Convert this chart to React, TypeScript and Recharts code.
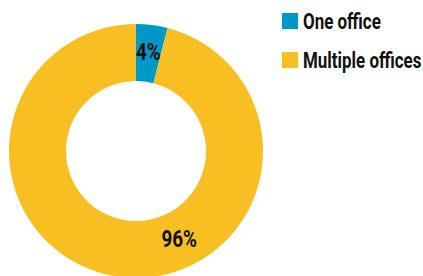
import { PieChart, Pie, Cell, Legend } from "recharts";

const CATEGORIES = ["One office", "Multiple offices"];
const VALUES = [4, 96];
const COLORS = ["#0098c6", "#f8bf22"];
// label angle for each slice (null = middle of the slice)
const LABEL_ANGLES: (number | null)[] = [null, -64];

const FONT = "Roboto, 'Liberation Sans', Arial, sans-serif";

const data = CATEGORIES.map((name, i) => ({ name, value: VALUES[i] }));

const RAD = Math.PI / 180;

function SliceLabel(props: any) {
  const { cx, cy, innerRadius, outerRadius, midAngle, index, value } = props;
  const r = (innerRadius + outerRadius) / 2;
  const a = LABEL_ANGLES[index] ?? midAngle;
  const x = cx + r * Math.cos(-a * RAD);
  const y = cy + r * Math.sin(-a * RAD);
  return (
    <text
      x={0}
      y={0}
      transform={`translate(${x} ${y - 1}) scale(0.82 1)`}
      textAnchor="middle"
      dominantBaseline="central"
      fill="#111"
      style={{ fontFamily: FONT, fontWeight: 700, fontSize: 23 }}
    >
      {value}%
    </text>
  );
}

function LegendBox() {
  return (
    <div style={{ fontFamily: FONT, fontWeight: 700, fontSize: 22, color: "#111" }}>
      {data.map((d, i) => (
        <div key={d.name} style={{ display: "flex", alignItems: "center", height: 16, marginBottom: 23 }}>
          <span style={{ width: 16, height: 16, background: COLORS[i], marginRight: 5, flexShrink: 0 }} />
          <span
            style={{
              whiteSpace: "nowrap",
              display: "inline-block",
              transform: "scaleX(0.77)",
              transformOrigin: "left center",
            }}
          >
            {d.name}
          </span>
        </div>
      ))}
    </div>
  );
}

export default function App() {
  return (
    <div style={{ position: "absolute", left: 0, top: 0, width: 423, height: 276, background: "#fff" }}>
      <PieChart width={423} height={276} margin={{ top: 0, right: 0, bottom: 0, left: 0 }}>
        <Pie
          data={data}
          dataKey="value"
          nameKey="name"
          cx={136}
          cy={151}
          innerRadius={70}
          outerRadius={127}
          startAngle={90}
          endAngle={-270}
          stroke="none"
          labelLine={false}
          label={SliceLabel}
          isAnimationActive={false}
        >
          {data.map((d, i) => (
            <Cell key={d.name} fill={COLORS[i]} />
          ))}
        </Pie>
        <Legend
          layout="vertical"
          verticalAlign="top"
          align="right"
          content={() => <LegendBox />}
          wrapperStyle={{ left: 282, top: 13, width: 141 }}
        />
      </PieChart>
    </div>
  );
}
